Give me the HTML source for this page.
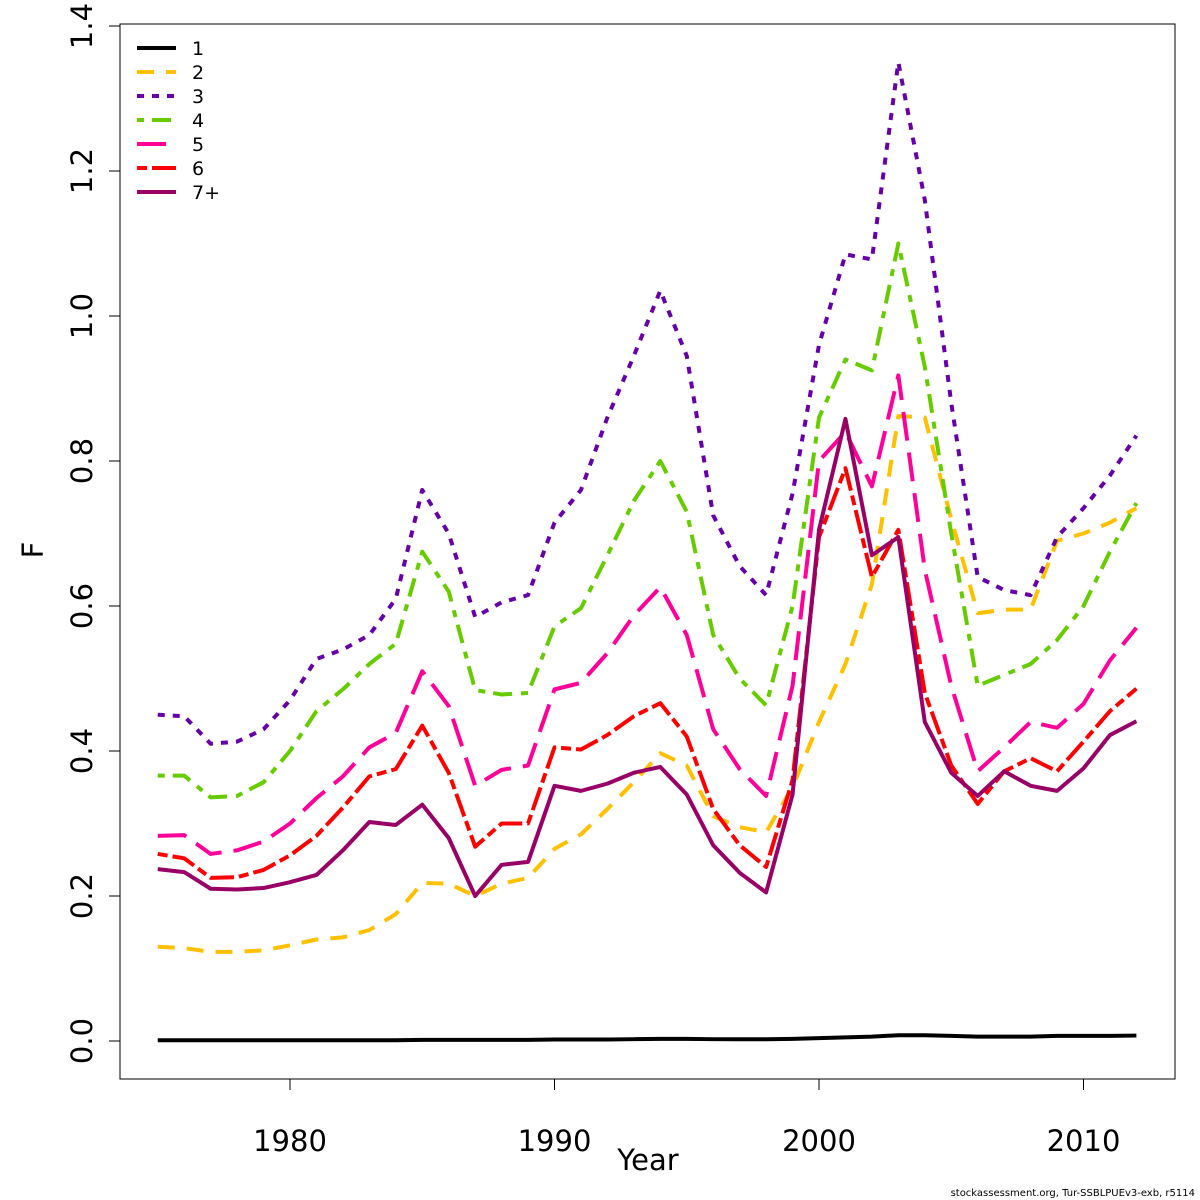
<!DOCTYPE html>
<html><head><meta charset="utf-8"><style>
body{margin:0;background:#fff}
svg{display:block;font-family:"DejaVu Sans","Liberation Sans",sans-serif}
</style></head><body>
<svg id="chart" width="1200" height="1200" viewBox="0 0 1200 1200">
<rect x="120" y="24" width="1055" height="1055" fill="none" stroke="#000" stroke-width="1"/>
<g id="axes"></g>
<g id="series"></g>
<g id="legend"></g>
<text x="648" y="1170" font-size="29" text-anchor="middle">Year</text>
<text x="43" y="550" font-size="29" text-anchor="middle" transform="rotate(-90 43 550)">F</text>
<text x="1195" y="1196" font-size="10" text-anchor="end">stockassessment.org, Tur-SSBLPUEv3-exb, r5114</text>
</svg>
<script>
const years=[];for(let y=1975;y<=2012;y++)years.push(y);
const seriesNames=["1","2","3","4","5","6","7+"];
const s1=[0.001,0.001,0.001,0.001,0.001,0.001,0.001,0.001,0.001,0.001,0.0015,0.0015,0.0015,0.0015,0.0015,0.002,0.002,0.002,0.0025,0.003,0.003,0.0025,0.0025,0.0025,0.003,0.004,0.005,0.006,0.008,0.008,0.007,0.006,0.006,0.006,0.007,0.007,0.007,0.0075];
const s2=[0.13,0.128,0.123,0.123,0.125,0.132,0.14,0.143,0.153,0.175,0.218,0.217,0.2,0.217,0.225,0.265,0.285,0.32,0.357,0.397,0.38,0.31,0.295,0.288,0.35,0.44,0.52,0.63,0.862,0.86,0.72,0.59,0.595,0.595,0.69,0.70,0.715,0.735];
const s3=[0.45,0.448,0.41,0.413,0.43,0.47,0.527,0.54,0.56,0.61,0.76,0.70,0.585,0.605,0.615,0.715,0.76,0.86,0.945,1.035,0.945,0.725,0.655,0.615,0.755,0.96,1.085,1.078,1.35,1.16,0.88,0.64,0.622,0.615,0.695,0.735,0.78,0.835];
const s4=[0.366,0.366,0.336,0.338,0.357,0.4,0.455,0.485,0.52,0.548,0.675,0.62,0.484,0.478,0.48,0.572,0.597,0.67,0.745,0.80,0.73,0.56,0.5,0.463,0.6,0.86,0.94,0.925,1.1,0.93,0.7,0.49,0.505,0.52,0.553,0.6,0.675,0.742];
const s5=[0.283,0.284,0.258,0.263,0.275,0.3,0.335,0.365,0.405,0.425,0.51,0.462,0.352,0.374,0.38,0.485,0.494,0.535,0.587,0.626,0.56,0.43,0.375,0.338,0.49,0.8,0.84,0.765,0.918,0.65,0.49,0.372,0.405,0.44,0.432,0.465,0.525,0.57];
const s6=[0.258,0.252,0.225,0.226,0.236,0.256,0.283,0.322,0.365,0.375,0.435,0.37,0.268,0.3,0.3,0.405,0.402,0.422,0.448,0.466,0.42,0.32,0.27,0.24,0.36,0.695,0.79,0.64,0.705,0.48,0.38,0.327,0.372,0.39,0.372,0.413,0.455,0.486];
const s7=[0.237,0.233,0.21,0.209,0.211,0.219,0.229,0.263,0.302,0.298,0.326,0.28,0.2,0.243,0.247,0.352,0.345,0.355,0.37,0.378,0.34,0.27,0.232,0.205,0.34,0.705,0.858,0.67,0.695,0.44,0.37,0.338,0.372,0.352,0.345,0.376,0.422,0.441];
const xTicks=[1980,1990,2000,2010];
const yTicks=[0,0.2,0.4,0.6,0.8,1.0,1.2,1.4];
const yTickLabels=["0.0","0.2","0.4","0.6","0.8","1.0","1.2","1.4"];
const allSeries=[s1,s2,s3,s4,s5,s6,s7];
const colors=["#000000","#FFC000","#6600A8","#66CC00","#FF0099","#FF0000","#990066"];
const dashes=["","17 12","7 8","7 8 19 9","29 12","10 5 24 5",""];
const names=["series-age-1","series-age-2","series-age-3","series-age-4","series-age-5","series-age-6","series-age-7plus"];
const X=y=>290+(y-1980)*26.45;
const Y=v=>1041-v*725;
const NS="http://www.w3.org/2000/svg";
function mk(t,a){const e=document.createElementNS(NS,t);for(const k in a)e.setAttribute(k,a[k]);return e;}
const ax=document.getElementById('axes');
xTicks.forEach(t=>{
 const l=mk('line',{x1:X(t),x2:X(t),y1:1079,y2:1090,stroke:'#000'});
 
 
 ax.appendChild(l);
 const tx=mk('text',{x:X(t),y:1151,'font-size':29,'text-anchor':'middle'});
 
 
 tx.textContent=t;ax.appendChild(tx);
});
yTicks.forEach((t,i)=>{
 const l=mk('line',{x1:109,x2:120,y1:Y(t),y2:Y(t),stroke:'#000'});
 
 
 ax.appendChild(l);
 const tx=mk('text',{x:92,y:Y(t),'font-size':29,'text-anchor':'middle',transform:`rotate(-90 92 ${Y(t)})`});
 
 
 tx.textContent=yTickLabels[i];ax.appendChild(tx);
});
const sg=document.getElementById('series');
allSeries.forEach((s,i)=>{
 const p=mk('polyline',{points:s.map((v,j)=>X(years[j])+','+Y(v)).join(' '),fill:'none',stroke:colors[i],'stroke-width':4,'stroke-dasharray':dashes[i],'stroke-linejoin':'round'});
 
 
 sg.appendChild(p);
});
const lg=document.getElementById('legend');
seriesNames.forEach((n,i)=>{
 const y=48+i*24;
 const l=mk('line',{x1:137,x2:176,y1:y,y2:y,stroke:colors[i],'stroke-width':4,'stroke-dasharray':dashes[i]});
 
 
 lg.appendChild(l);
 const t=mk('text',{x:192,y:y+7,'font-size':19});
 
 
 t.textContent=n;lg.appendChild(t);
});
</script>
</body></html>
